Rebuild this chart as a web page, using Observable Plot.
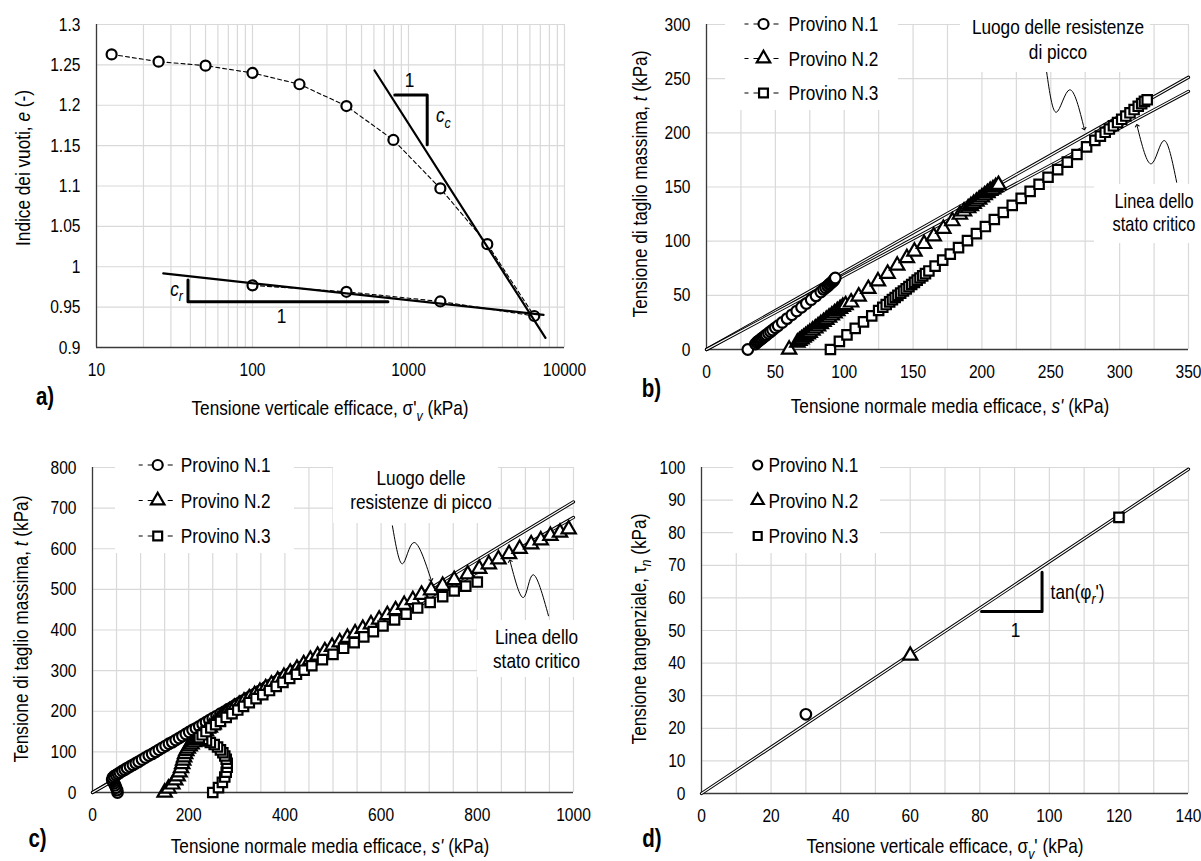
<!DOCTYPE html>
<html><head><meta charset="utf-8">
<script src="https://cdn.jsdelivr.net/npm/d3@7"></script>
<script src="https://cdn.jsdelivr.net/npm/@observablehq/plot@0.6"></script>
<style>
body{margin:0;background:#fff;}
#root{position:relative;width:1201px;height:861px;overflow:hidden;background:#fff;}
.panel{position:absolute;}
.panel svg{display:block;max-width:none;}
</style></head><body><div id="root"></div>
<script>
// ---------------- DATA ----------------
// Panel a: oedometer curve
const aLoadStress = [12.5, 25, 50, 100, 200, 400, 800, 1600, 3200, 6400];
const aLoadVoid   = [1.263, 1.254, 1.249, 1.240, 1.226, 1.199, 1.157, 1.097, 1.028, 0.939];
const aUnloadStress = [1600, 400, 100];
const aUnloadVoid   = [0.957, 0.969, 0.977];
const aCcLineX = [606, 7550],  aCcLineY = [1.243, 0.912];
const aCrLineX = [26.8, 7340], aCrLineY = [0.9917, 0.9405];
const aCcTriX = [817, 1318, 1318],  aCcTriY = [1.2128, 1.2128, 1.1512];
const aCrTriX = [38.6, 38.6, 738],  aCrTriY = [0.9835, 0.9566, 0.9566];
const aXTicks = [10, 100, 1000, 10000];
const aYTicks = [0.9, 0.95, 1, 1.05, 1.1, 1.15, 1.2, 1.25, 1.3];
const aYLabels = ["0.9", "0.95", "1", "1.05", "1.1", "1.15", "1.2", "1.25", "1.3"];

// Panel b: stress paths (low stress)
const bN1s = [30, 35.5, 36.5, 37.5, 38.5, 39.5, 40.5, 41.5, 42.5, 43.5, 45, 46.5, 48, 50, 52, 55, 58.5, 62, 65.5, 69, 72.5, 76, 79.5, 83, 85, 86.5, 88, 89, 90, 91, 91.8, 92.5, 93, 93.5];
const bN1t = [0, 5, 6.5, 7.5, 8.5, 9.5, 10.5, 11.5, 12.5, 13.5, 15, 16.5, 18, 20, 22, 25, 28.5, 32, 35.5, 39, 42.5, 46, 49.5, 53, 55.5, 57, 58.5, 60, 61, 62, 63, 64, 65, 66];
const bN2s = [60, 66, 67.5, 69, 70.5, 72, 73.5, 75, 77, 79, 81, 83, 85, 87, 89, 91, 93, 95, 97, 99, 101, 105, 110.5, 117.5, 124.5, 131.5, 138.5, 145.5, 151, 158, 165, 172, 178.5, 184, 187, 190, 192, 194, 196, 198, 200, 202, 204, 206, 208, 210, 212];
const bN2t = [0, 6.5, 8, 9.5, 11, 12.5, 14, 15.5, 17.5, 19.5, 21.5, 23.5, 25.5, 27.5, 29.5, 31.5, 33.5, 35.5, 37.5, 39.5, 41, 43.5, 49, 56, 63, 70, 77.5, 84.5, 90.5, 97.5, 104.5, 111.5, 118.5, 124.5, 127.5, 130.5, 132.5, 134.5, 136.5, 138.5, 140.5, 142.5, 144.5, 146.5, 148, 150, 152];
const bN3s = [90, 96.5, 102, 108, 114, 120, 125, 128, 130.5, 133, 135, 137, 139, 141, 143, 145, 147, 149, 151, 153, 155, 157, 159, 161.5, 166, 171.5, 177, 183, 189.5, 196, 202.5, 209, 215.5, 222, 228.5, 235, 241.5, 248, 255, 262, 269, 276, 282, 286, 289.5, 292.5, 295.5, 298.5, 301.5, 304.5, 307.5, 310.5, 313.5, 316, 318, 320];
const bN3t = [0, 7.5, 13.5, 19.5, 25.5, 31, 36, 39, 41.5, 44, 46, 48, 50, 52, 54, 56, 58, 60, 62, 64, 66, 68, 70, 72.5, 77, 82.5, 88, 94, 100.5, 107, 113.5, 120, 126.5, 133, 139.5, 146, 152.5, 159, 166, 173, 180, 187, 193, 197, 200.5, 203.5, 206.5, 209.5, 212.5, 215.5, 218.5, 221.5, 224.5, 227, 229, 230.5];
const bPeakX = [0, 350], bPeakY = [0, 251.3];
const bCritX = [0, 350], bCritY = [0, 238.3];
const bArrowPeakX = [247, 254, 263.7, 274.3], bArrowPeakY = [256, 219, 239.7, 203.7];
const bArrowCritX = [341.4, 332.2, 323, 312.6], bArrowCritY = [154.4, 192.9, 171.4, 206.8];
const bXTicks = [0, 50, 100, 150, 200, 250, 300, 350];
const bYTicks = [0, 50, 100, 150, 200, 250, 300];

// Panel c: stress paths (high stress)
const cN1s = [52, 51, 49, 47, 45, 43, 41, 42, 45, 49, 53, 57, 62, 67, 72, 78, 84, 90, 96, 103, 110, 117, 124, 131, 138, 145, 152, 159, 166, 173, 180, 187, 194, 201, 208, 215, 222, 229, 236, 243, 250, 258, 266, 274, 282, 290, 298, 306, 314, 322, 330, 338, 346, 354, 362, 370, 378, 386, 394, 402, 410, 418, 426, 432];
const cN1t = [0, 6, 12, 18, 23, 27, 31, 36, 40, 43, 46, 49, 53, 56, 60, 64, 68, 72, 76, 81, 86, 91, 95, 100, 105, 110, 115, 120, 124, 129, 134, 139, 144, 149, 154, 158, 163, 168, 173, 178, 183, 188, 194, 199, 205, 210, 216, 221, 227, 232, 238, 243, 249, 254, 260, 265, 271, 276, 282, 287, 293, 298, 304, 308];
const cN2s = [150, 158, 166, 172, 177, 181, 184, 186.5, 188.5, 190.5, 192.5, 195, 198, 202, 206, 211, 216, 222, 229, 236, 244, 252, 260, 268, 277, 286, 295, 305, 315, 326, 337, 348, 360, 372, 385, 398, 411, 425, 439, 453, 468, 483, 498, 514, 530, 546, 562, 579, 596, 613, 630, 648, 666, 684, 704, 728, 752, 780, 804, 824, 844, 866, 888, 912, 932, 952, 972, 990];
const cN2t = [0, 10, 20, 30, 40, 50, 60, 70, 79, 87, 95, 102, 108, 114, 119, 124, 129, 135, 143, 151, 160, 168, 176, 184, 193, 201, 209, 216, 224, 232, 240, 248, 257, 266, 276, 285, 295, 305, 316, 327, 337, 348, 359, 370, 381, 392, 403, 414, 426, 437, 449, 462, 474, 487, 498, 509, 523, 537, 551, 562, 574, 587, 600, 611, 621, 632, 640, 648];
const cN3s = [250, 262, 270, 275, 278, 280, 280, 278, 275, 271, 266, 260, 253, 245, 237, 229, 222, 228, 236, 246, 256, 266, 278, 290, 302, 314, 326, 340, 354, 368, 382, 396, 410, 424, 440, 456, 478, 500, 522, 544, 564, 584, 604, 628, 652, 676, 702, 728, 752, 776, 800];
const cN3t = [0, 12, 25, 38, 50, 62, 72, 82, 90, 98, 105, 112, 118, 123, 127, 131, 135, 142, 150, 159, 167, 175, 185, 194, 203, 212, 221, 231, 241, 251, 261, 271, 281, 291, 301, 312, 327, 340, 355, 369, 383, 396, 410, 425, 439, 454, 468, 482, 496, 508, 518];
const cPeakX = [0, 1000], cPeakY = [0, 715.5];
const cCritX = [0, 1000], cCritY = [0, 677];
const cArrowPeakX = [623.5, 644.3, 668.2, 704.2], cArrowPeakY = [656.4, 562.9, 615.3, 522.8];
const cArrowCritX = [948, 916, 896, 868], cArrowCritY = [435, 536, 480, 570];
const cXTicks = [0, 200, 400, 600, 800, 1000];
const cYTicks = [0, 100, 200, 300, 400, 500, 600, 700, 800];

// Panel d: residual strength
const dN1 = {s: 30, t: 24.3};
const dN2 = {s: 60, t: 42.3};
const dN3 = {s: 120, t: 84.7};
const dLineX = [0, 140], dLineY = [0, 99.5];
const dTriX = [80.5, 97.9, 97.9], dTriY = [55.8, 55.8, 67.9];
const dXTicks = [0, 20, 40, 60, 80, 100, 120, 140];
const dYTicks = [0, 10, 20, 30, 40, 50, 60, 70, 80, 90, 100];

const legendLabels = ["Provino N.1", "Provino N.2", "Provino N.3"];
const legendSymbols = ["circle", "triangle", "square"];

// ---------------- HELPERS ----------------
const FONT = '"Liberation Sans",Arial,sans-serif';
const SX = 0.82; // horizontal condensing of the Arial-like font (reference uses a narrow face)
const GRID = "#d9d9d9", AXIS = "#3a3a3a";
const STYLE = {fontFamily: FONT, fontSize: "19px", color: "#000", background: "transparent", overflow: "visible"};
const root = document.getElementById("root");
const zip = (xs, ys) => xs.map((x, i) => ({x, y: ys[i]}));
const range = (a, b, s) => d3.range(a, b + s / 2, s);

function mount(plot, left, top) {
  const d = document.createElement("div");
  d.className = "panel"; d.style.left = left + "px"; d.style.top = top + "px";
  d.appendChild(plot); root.appendChild(d);
  const sel = d3.select(plot);
  // condense tick labels around their anchor point
  sel.selectAll("text").each(function () {
    const x = +this.getAttribute("x") || 0, y = +this.getAttribute("y") || 0;
    const old = this.getAttribute("transform") || "";
    this.setAttribute("transform", `${old} translate(${x},${y}) scale(${SX},1) translate(${-x},${-y})`);
  });
  return sel;
}
function rich(sel, x, y, parts, {anchor = "middle", size = 21, rotate = false, weight = null} = {}) {
  const t = sel.append("text").attr("font-family", FONT).attr("font-size", size)
    .attr("text-anchor", anchor).attr("fill", "#000").attr("dy", "0.35em")
    .attr("transform", `translate(${x},${y})${rotate ? " rotate(-90)" : ""} scale(${SX},1)`);
  if (weight) t.attr("font-weight", weight);
  let shifted = 0;
  for (const p of parts) {
    const s = t.append("tspan").text(p.t);
    if (p.i) s.attr("font-style", "italic");
    if (p.sub) { const sh = size * 0.25; s.attr("font-size", size * 0.72).attr("dy", sh - shifted); shifted = sh; }
    else if (shifted) { s.attr("dy", -shifted); shifted = 0; }
  }
  return t;
}
function box(sel, x1, y1, x2, y2) {
  sel.append("rect").attr("x", x1).attr("y", y1).attr("width", x2 - x1).attr("height", y2 - y1).attr("fill", "#fff");
}
function symbolPath(name, r) {
  const sym = {circle: d3.symbolCircle, triangle: d3.symbolTriangle, square: d3.symbolSquare}[name];
  return d3.symbol(sym, Math.PI * r * r)();
}
function legend(sel, mx, y0, dy, textX, dashed) {
  legendLabels.forEach((lab, i) => {
    const y = y0 + i * dy;
    if (dashed) sel.append("line").attr("x1", mx - 19).attr("x2", mx + 19).attr("y1", y).attr("y2", y)
      .attr("stroke", "#000").attr("stroke-width", 1.2).attr("stroke-dasharray", "5,5").attr("stroke-dashoffset", 1);
    sel.append("path").attr("d", symbolPath(legendSymbols[i], dashed ? 5 : 4.5)).attr("transform", `translate(${mx},${y})`)
      .attr("fill", "#fff").attr("stroke", "#000").attr("stroke-width", 2.2);
    rich(sel, textX, y, [{t: lab}], {anchor: "start", size: 21});
  });
}
function doubleLine(xs, ys) {
  return [Plot.line(zip(xs, ys), {x: "x", y: "y", stroke: "#000", strokeWidth: 3.2}),
          Plot.line(zip(xs, ys), {x: "x", y: "y", stroke: "#fff", strokeWidth: 1.2})];
}
function dots(xs, ys, symbol) {
  return Plot.dot(zip(xs, ys), {x: "x", y: "y", r: 5.3, symbol, fill: "#fff", stroke: "#000", strokeWidth: 2.2});
}
function arrow(xs, ys) {
  return Plot.line(zip(xs, ys), {x: "x", y: "y", curve: "natural", stroke: "#000", strokeWidth: 1, markerEnd: "arrow"});
}
function frameMarks(gx, gy, x0, y0) {
  return [Plot.ruleX(gx, {stroke: GRID, strokeWidth: 1.2}), Plot.ruleY(gy, {stroke: GRID, strokeWidth: 1.2}),
          Plot.ruleX([x0], {stroke: AXIS, strokeWidth: 1.3}), Plot.ruleY([y0], {stroke: AXIS, strokeWidth: 1.3})];
}
const fmt = d => String(d);

// ---------------- PANEL A ----------------
const aGridX = [];
for (const dec of [10, 100, 1000]) for (let k = 1; k <= 9; k++) aGridX.push(dec * k);
aGridX.push(10000);
const plotA = Plot.plot({
  width: 600, height: 420, marginLeft: 96, marginRight: 36, marginTop: 24, marginBottom: 73,
  style: STYLE,
  x: {type: "log", domain: [10, 10000], ticks: aXTicks, tickFormat: fmt, tickSize: 0, tickPadding: 15, label: null},
  y: {domain: [0.9, 1.3], ticks: aYTicks, tickFormat: d => aYLabels[aYTicks.indexOf(d)], tickSize: 0, tickPadding: 16, label: null},
  marks: [
    ...frameMarks(aGridX, aYTicks, 10, 0.9),
    Plot.line(zip([...aLoadStress, ...aUnloadStress], [...aLoadVoid, ...aUnloadVoid]), {x: "x", y: "y", stroke: "#000", strokeWidth: 1.1, strokeDasharray: "4,3"}),
    Plot.dot(zip([...aLoadStress, ...aUnloadStress], [...aLoadVoid, ...aUnloadVoid]), {x: "x", y: "y", r: 5, fill: "#fff", stroke: "#000", strokeWidth: 2.2}),
    Plot.line(zip(aCcLineX, aCcLineY), {x: "x", y: "y", stroke: "#000", strokeWidth: 2.2}),
    Plot.line(zip(aCrLineX, aCrLineY), {x: "x", y: "y", stroke: "#000", strokeWidth: 2.2}),
    Plot.line(zip(aCcTriX, aCcTriY), {x: "x", y: "y", stroke: "#000", strokeWidth: 3}),
    Plot.line(zip(aCrTriX, aCrTriY), {x: "x", y: "y", stroke: "#000", strokeWidth: 3})
  ]
});
const sA = mount(plotA, 0, 0);
{
  const X = plotA.scale("x"), Y = plotA.scale("y");
  rich(sA, X.apply(1023), Y.apply(1.2306), [{t: "1"}], {size: 21});
  rich(sA, X.apply(1510), Y.apply(1.1872), [{t: "c", i: true}, {t: "c", i: true, sub: true}], {anchor: "start", size: 21});
  rich(sA, X.apply(154.6), Y.apply(0.9393), [{t: "1"}], {size: 21});
  rich(sA, X.apply(36.1), Y.apply(0.9724), [{t: "c", i: true}, {t: "r", i: true, sub: true}], {anchor: "end", size: 21});
  rich(sA, 330, 408, [{t: "Tensione verticale efficace, σ'"}, {t: "v", i: true, sub: true}, {t: " (kPa)"}]);
  rich(sA, 23, 168, [{t: "Indice dei vuoti, "}, {t: "e", i: true}, {t: " (-)"}], {rotate: true});
  rich(sA, 45, 396, [{t: "a)"}], {size: 25, weight: "bold"});
}

// ---------------- PANEL B ----------------
const plotB = Plot.plot({
  width: 601, height: 420, marginLeft: 106, marginRight: 13, marginTop: 24, marginBottom: 71,
  style: STYLE,
  x: {domain: [0, 350], ticks: bXTicks, tickFormat: fmt, tickSize: 0, tickPadding: 15, label: null},
  y: {domain: [0, 300], ticks: bYTicks, tickFormat: fmt, tickSize: 0, tickPadding: 16, label: null},
  marks: [
    ...frameMarks(range(0, 350, 25), bYTicks, 0, 0),
    ...doubleLine(bPeakX, bPeakY),
    ...doubleLine(bCritX, bCritY),
    dots(bN1s, bN1t, "circle"),
    dots(bN2s, bN2t, "triangle"),
    dots(bN3s, bN3t, "square"),
    arrow(bArrowPeakX, bArrowPeakY),
    arrow(bArrowCritX, bArrowCritY)
  ]
});
const sB = mount(plotB, 600, 0);
{
  box(sB, 125, 3, 298, 110);
  box(sB, 360, 3, 550, 72);
  box(sB, 494, 184, 601, 243);
  legend(sB, 163.5, 24, 34.5, 188.5, true);
  rich(sB, 458, 27, [{t: "Luogo delle resistenze"}]);
  rich(sB, 458, 52, [{t: "di picco"}]);
  rich(sB, 554, 201, [{t: "Linea dello"}], {size: 20});
  rich(sB, 554, 224, [{t: "stato critico"}], {size: 20});
  rich(sB, 350, 406, [{t: "Tensione normale media efficace, "}, {t: "s'", i: true}, {t: " (kPa)"}]);
  rich(sB, 40, 184, [{t: "Tensione di taglio massima, "}, {t: "t", i: true}, {t: " (kPa)"}], {rotate: true});
  rich(sB, 51.5, 388, [{t: "b)"}], {size: 25, weight: "bold"});
}

// ---------------- PANEL C ----------------
const plotC = Plot.plot({
  width: 600, height: 441, marginLeft: 92, marginRight: 27, marginTop: 47, marginBottom: 69,
  style: STYLE,
  x: {domain: [0, 1000], ticks: cXTicks, tickFormat: fmt, tickSize: 0, tickPadding: 15, label: null},
  y: {domain: [0, 800], ticks: cYTicks, tickFormat: fmt, tickSize: 0, tickPadding: 16, label: null},
  marks: [
    ...frameMarks(range(0, 1000, 50), cYTicks, 0, 0),
    ...doubleLine(cPeakX, cPeakY),
    ...doubleLine(cCritX, cCritY),
    dots(cN1s, cN1t, "circle"),
    dots(cN2s, cN2t, "triangle"),
    dots(cN3s, cN3t, "square"),
    arrow(cArrowPeakX, cArrowPeakY),
    arrow(cArrowCritX, cArrowCritY)
  ]
});
const sC = mount(plotC, 0, 420);
{
  box(sC, 115, 35, 294, 133);
  box(sC, 333, 35, 498, 103);
  box(sC, 477, 200, 590, 257);
  legend(sC, 157.7, 45, 35.5, 180.8, true);
  rich(sC, 421, 58, [{t: "Luogo delle"}]);
  rich(sC, 421, 82, [{t: "resistenze di picco"}]);
  rich(sC, 536.5, 217, [{t: "Linea dello"}]);
  rich(sC, 536.5, 241, [{t: "stato critico"}]);
  rich(sC, 330, 426, [{t: "Tensione normale media efficace, "}, {t: "s'", i: true}, {t: " (kPa)"}]);
  rich(sC, 21, 209, [{t: "Tensione di taglio massima, "}, {t: "t", i: true}, {t: " (kPa)"}], {rotate: true});
  rich(sC, 37.5, 418, [{t: "c)"}], {size: 25, weight: "bold"});
}

// ---------------- PANEL D ----------------
const plotD = Plot.plot({
  width: 601, height: 441, marginLeft: 101, marginRight: 13, marginTop: 47, marginBottom: 68,
  style: STYLE,
  x: {domain: [0, 140], ticks: dXTicks, tickFormat: fmt, tickSize: 0, tickPadding: 15, label: null},
  y: {domain: [0, 100], ticks: dYTicks, tickFormat: fmt, tickSize: 0, tickPadding: 16, label: null},
  marks: [
    ...frameMarks(range(0, 140, 10), dYTicks, 0, 0),
    ...doubleLine(dLineX, dLineY),
    Plot.line(zip(dTriX, dTriY), {x: "x", y: "y", stroke: "#000", strokeWidth: 3}),
    dots([dN1.s], [dN1.t], "circle"),
    dots([dN2.s], [dN2.t], "triangle"),
    dots([dN3.s], [dN3.t], "square")
  ]
});
const sD = mount(plotD, 600, 420);
{
  const X = plotD.scale("x"), Y = plotD.scale("y");
  box(sD, 133, 35, 280, 133);
  legend(sD, 157.7, 45, 35.5, 168.5, false);
  rich(sD, X.apply(100.5), Y.apply(61.7), [{t: "tan(φ"}, {t: "r", i: true, sub: true}, {t: "')"}], {anchor: "start", size: 21});
  rich(sD, X.apply(90.4), Y.apply(50.2), [{t: "1"}], {size: 21});
  rich(sD, 345, 426, [{t: "Tensione verticale efficace, σ"}, {t: "v", i: true, sub: true}, {t: "' (kPa)"}]);
  rich(sD, 38.5, 209, [{t: "Tensione tangenziale, τ"}, {t: "n", i: true, sub: true}, {t: " (kPa)"}], {rotate: true});
  rich(sD, 52, 418, [{t: "d)"}], {size: 25, weight: "bold"});
}
</script></body></html>
